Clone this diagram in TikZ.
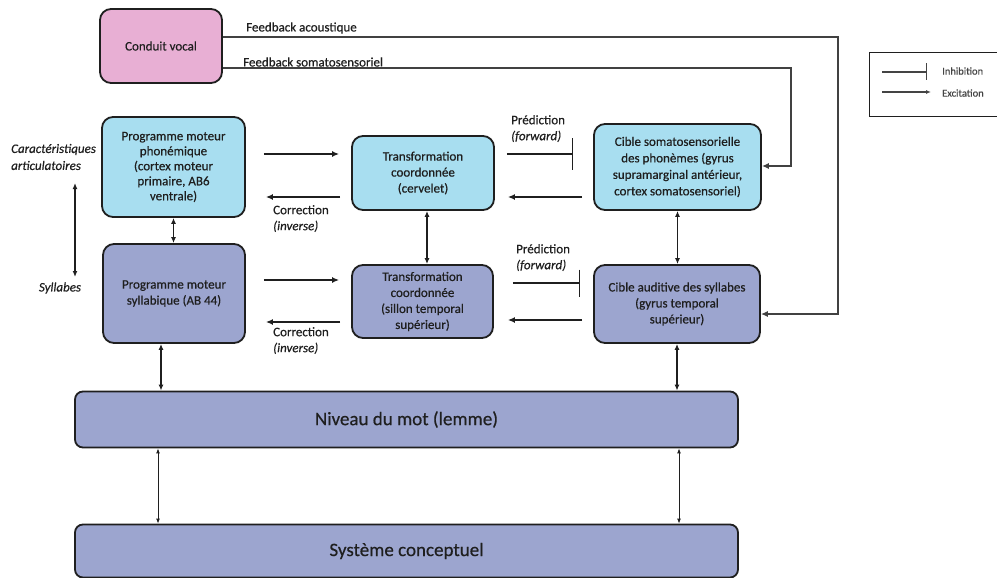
\documentclass[tikz,border=0pt]{standalone}
\usepackage{fontspec}
\setmainfont{Carlito}[FakeBold=0.5]
\usetikzlibrary{arrows.meta,calc}
\definecolor{pinkbox}{HTML}{E8AFD4}
\definecolor{bluebox}{HTML}{A8DEF0}
\definecolor{purplebox}{HTML}{9CA5CF}
\definecolor{ink}{HTML}{1F1F1F}
\definecolor{legink}{HTML}{444444}
\begin{document}
\begin{tikzpicture}[x=1pt,y=-1pt,
  box/.style={draw=ink, line width=1.8pt, rounded corners=11pt, align=center,
    font=\fontsize{13}{16}\selectfont, text=ink, inner sep=2pt},
  big/.style={box, rounded corners=8pt, font=\fontsize{19}{22}\selectfont},
  arr/.style={-{Latex[length=7pt,width=6pt]}, line width=1.4pt, draw=ink},
  dbl/.style={{Latex[length=6pt,width=5pt]}-{Latex[length=6pt,width=5pt]}, line width=1.3pt, draw=ink},
  thindbl/.style={{Latex[length=5pt,width=4pt]}-{Latex[length=5pt,width=4pt]}, line width=0.9pt, draw=ink},
  inh/.style={-{Bar[width=#1,line width=1.5pt]}, line width=1.4pt, draw=ink},
  fb/.style={line width=1.3pt, draw=ink!85},
  lbl/.style={font=\fontsize{13}{16}\selectfont, text=ink, align=left, inner sep=0pt},
  leglbl/.style={font=\fontsize{10.5}{12}\selectfont, text=legink, inner sep=0pt, anchor=west},
]
\useasboundingbox (0,0) rectangle (997,578);

% boxes
\node[box, fill=pinkbox, minimum width=122, minimum height=74] (cv) at (161,46) {Conduit vocal};
\node[box, fill=bluebox, minimum width=143, minimum height=100, font=\fontsize{13}{15}\selectfont] (pmp) at (173.5,167)
  {Programme moteur\\phonémique\\(cortex moteur\\primaire, AB6\\ventrale)};
\node[box, fill=bluebox, minimum width=142, minimum height=74] (tc1) at (423,173)
  {Transformation\\coordonnée\\(cervelet)};
\node[box, fill=bluebox, minimum width=167, minimum height=86, font=\fontsize{13}{16.5}\selectfont] (cs) at (677.5,167)
  {Cible somatosensorielle\\des phonèmes (gyrus\\supramarginal antérieur,\\cortex somatosensoriel)};
\node[box, fill=purplebox, minimum width=142, minimum height=99] (pms) at (174,293.5)
  {Programme moteur\\syllabique (AB 44)};
\node[box, fill=purplebox, minimum width=141, minimum height=73] (tc2) at (422.5,301.5)
  {Transformation\\coordonnée\\(sillon temporal\\supérieur)};
\node[box, fill=purplebox, minimum width=166, minimum height=78] (ca) at (677,304)
  {Cible auditive des syllabes\\(gyrus temporal\\supérieur)};
\node[big, fill=purplebox, minimum width=663, minimum height=56] (niv) at (406.5,419.5) {Niveau du mot (lemme)};
\node[big, fill=purplebox, minimum width=663, minimum height=53] (sys) at (406.5,551) {Système conceptuel};

% feedback lines
\draw[fb, -{Latex[length=7pt,width=6pt]}] ([yshift=9pt]cv.east) -| ([xshift=77pt,yshift=-10pt]ca.east) -- ([yshift=-10pt]ca.east);
\draw[fb, -{Latex[length=7pt,width=6pt]}] ([yshift=-22pt]cv.east) -| ([xshift=29pt,yshift=1pt]cs.east) -- ([yshift=1pt]cs.east);
\node[lbl, anchor=west] (fba) at (246,28) {Feedback acoustique};
\node[lbl, anchor=west] (fbs) at (243,62) {Feedback somatosensoriel};

% row 1 connectors
\draw[arr, shorten <=18pt, shorten >=12pt] ([yshift=13pt]pmp.east) -- ([yshift=13pt]pmp.east -| tc1.west);
\draw[arr, shorten <=11pt, shorten >=20pt] ([yshift=-30pt]pmp.east -| tc1.west) -- ([yshift=-30pt]pmp.east);
\node[lbl, anchor=north west] (cor1) at (273,205) {Correction\\\textit{(inverse)}};
\draw[inh=32pt, shorten <=12pt, shorten >=20pt] ([yshift=19pt]tc1.east) -- ([yshift=19pt]tc1.east -| cs.west);
\draw[arr, shorten <=11pt, shorten >=13pt] ([yshift=-24pt]tc1.east -| cs.west) -- ([yshift=-24pt]tc1.east);
\node[lbl, anchor=north west] (pre1) at (511,115) {Prédiction\\\textit{(forward)}};

% row 2 connectors
\draw[arr, shorten <=18pt, shorten >=12pt] ([yshift=13.5pt]pms.east) -- ([yshift=13.5pt]pms.east -| tc2.west);
\draw[arr, shorten <=11pt, shorten >=20pt] ([yshift=-28.5pt]pms.east -| tc2.west) -- ([yshift=-28.5pt]pms.east);
\node[lbl, anchor=north west] (cor2) at (273,327) {Correction\\\textit{(inverse)}};
\draw[inh=27pt, shorten <=19pt, shorten >=13pt] ([yshift=18.5pt]tc2.east) -- ([yshift=18.5pt]tc2.east -| ca.west);
\draw[arr, shorten <=11pt, shorten >=14pt] ([yshift=-18.5pt]tc2.east -| ca.west) -- ([yshift=-18.5pt]tc2.east);
\node[lbl, anchor=north west] (pre2) at (516,244) {Prédiction\\\textit{(forward)}};

% vertical connectors
\draw[dbl] (pmp.south) -- (pmp.south |- pms.north);
\draw[dbl] ([xshift=4pt]tc1.south) -- ([xshift=4pt]tc1.south |- tc2.north);
\draw[dbl] (cs.south) -- (cs.south |- ca.north);
\draw[dbl] ([xshift=-13pt]pms.south) -- ([xshift=-13pt]pms.south |- niv.north);
\draw[dbl] (ca.south) -- (ca.south |- niv.north);
\draw[thindbl] ([xshift=-16pt]pms.south |- niv.south) -- ([xshift=-16pt]pms.south |- sys.north);
\draw[thindbl] ([xshift=2pt]ca.south |- niv.south) -- ([xshift=2pt]ca.south |- sys.north);

% left labels
\node[lbl, anchor=west, font=\fontsize{13}{17}\itshape] (carac) at (11,157) {Caractéristiques\\articulatoires};
\node[lbl, font=\fontsize{13}{16}\itshape] (syl) at (60,288) {Syllabes};
\coordinate (artTop) at (75,183);
\coordinate (artBot) at (75,277);
\draw[dbl] (artTop) -- (artBot);

% legend
\node[draw=ink, line width=1.2pt, minimum width=128, minimum height=64, anchor=north west, inner sep=0pt] (leg) at (868.5,52) {};
\coordinate (li1) at (882,72);
\coordinate (li2) at (927,72);
\coordinate (le1) at (882,92);
\coordinate (le2) at (931,92);
\draw[-{Bar[width=17pt,line width=1.2pt]}, line width=1.1pt, draw=legink] (li1) -- (li2);
\draw[-{Latex[length=5pt,width=4pt]}, line width=1.1pt, draw=legink] (le1) -- (le2);
\node[leglbl] (linh) at (942,71) {Inhibition};
\node[leglbl] (lexc) at (942,93) {Excitation};
\end{tikzpicture}
\end{document}
